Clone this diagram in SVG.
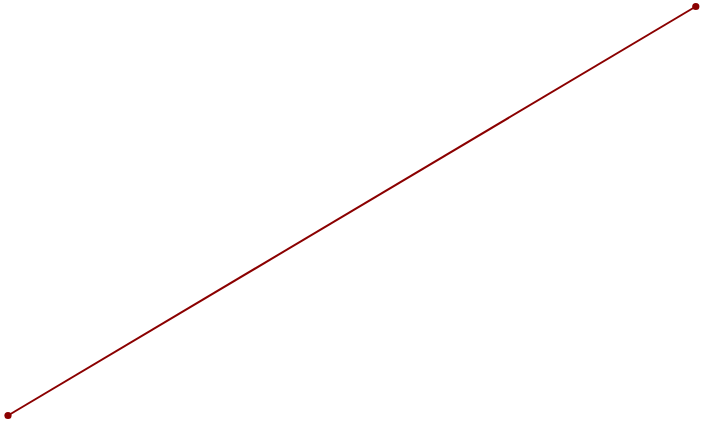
<svg xmlns="http://www.w3.org/2000/svg" width="704" height="422" viewBox="0 0 704 422">
<style>
.seg{stroke:#8b0000;stroke-width:2;fill:none}
.pt{fill:#8b0000}
</style>
<rect width="704" height="422" fill="#ffffff"/>
<g id="connectors">
<line class="seg" x1="8" y1="415.5" x2="695.8" y2="6.5"/>
</g>
<g id="p1"><circle class="pt" cx="8" cy="415.5" r="3.6"/></g>
<g id="p2"><circle class="pt" cx="695.8" cy="6.5" r="3.6"/></g>
</svg>
